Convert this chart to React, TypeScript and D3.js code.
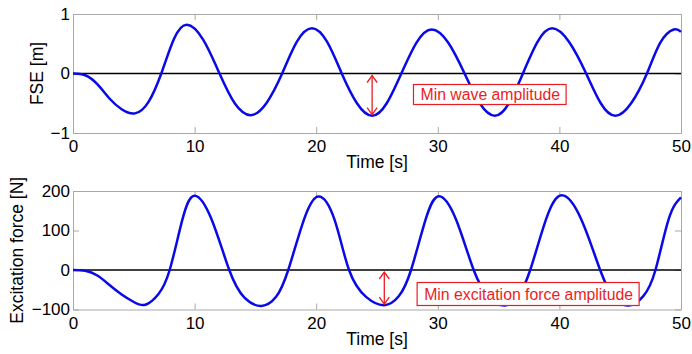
import React, { useEffect, useRef } from 'react';
import * as d3 from 'd3';

// free surface elevation
const fseTime = [0, 1, 2, 3, 4, 5.1, 6.2, 7.26, 8.3, 9.37, 10.7, 12.05, 13.3, 14.6, 15.9, 17.2, 18.4, 19.65, 20.9, 22.1, 23.35, 24.6, 25.8, 27.0, 28.25, 29.5, 30.85, 32.2, 33.45, 34.7, 35.85, 37.0, 38.2, 39.4, 40.8, 42.2, 43.4, 44.6, 45.9, 47.2, 48.3, 49.4, 50];
const fseValue = [0, -0.03, -0.18, -0.42, -0.6, -0.67, -0.48, 0, 0.58, 0.82, 0.57, 0, -0.5, -0.7, -0.5, 0, 0.53, 0.76, 0.53, 0, -0.5, -0.71, -0.5, 0, 0.52, 0.74, 0.52, 0, -0.5, -0.71, -0.5, 0, 0.53, 0.76, 0.53, 0, -0.5, -0.71, -0.5, 0, 0.52, 0.74, 0.7];

// excitation force, bottom panel
const forceTime = [0, 1, 2, 3, 4, 5, 5.95, 7, 7.95, 9, 10, 11.4, 12.85, 14.1, 15.5, 16.7, 17.7, 19.0, 20.2, 21.5, 22.7, 24.1, 25.6, 26.8, 27.8, 29.0, 30.1, 31.5, 32.95, 34.2, 35.5, 36.6, 37.6, 38.9, 40.2, 41.8, 43.35, 44.5, 45.7, 46.9, 47.9, 49.0, 50];
const forceValue = [0, -2, -14, -38, -62, -81, -88, -62, 0, 128, 188, 128, 0, -70, -91, -68, 0, 128, 186, 128, 0, -68, -89, -66, 0, 128, 187, 128, 0, -68, -90, -66, 0, 128, 189, 128, 0, -70, -90, -66, 0, 130, 184];

const timeTicks = [0, 10, 20, 30, 40, 50];
const fseTicks = [-1, 0, 1];
const forceTicks = [-100, 0, 100, 200];

const FONT = '"Liberation Sans", Arial, Helvetica, sans-serif';
const BLUE = '#0a0ae6';
const RED = '#ec1c24';
const FRAME = '#a8a8a8';

type Panel = {
  top: number;
  bottom: number;
  yDomain: [number, number];
  yTicks: number[];
  yLabel: string;
  yLabelX: number;
  times: number[];
  values: number[];
  arrowT: number;
  arrowV: number;
  note: string;
  noteT: number;
  noteTop: number;
  noteH: number;
};

const panels: Panel[] = [
  {
    top: 14, bottom: 133, yDomain: [-1, 1], yTicks: fseTicks, yLabel: 'FSE [m]', yLabelX: 37,
    times: fseTime, values: fseValue, arrowT: 24.6, arrowV: -0.71,
    note: 'Min wave amplitude', noteT: 28, noteTop: 84.5, noteH: 20,
  },
  {
    top: 191, bottom: 309.5, yDomain: [-100, 200], yTicks: forceTicks, yLabel: 'Excitation force [N]', yLabelX: 17,
    times: forceTime, values: forceValue, arrowT: 25.6, arrowV: -89,
    note: 'Min excitation force amplitude', noteT: 28.3, noteTop: 282.5, noteH: 23,
  },
];

export default function App() {
  const ref = useRef<SVGSVGElement>(null);

  useEffect(() => {
    const svg = d3.select(ref.current);
    svg.selectAll('*').remove();

    const left = 73, right = 681;
    const x = d3.scaleLinear().domain([0, 50]).range([left, right]);

    panels.forEach(p => {
      const y = d3.scaleLinear().domain(p.yDomain).range([p.bottom, p.top]);
      const g = svg.append('g');

      // white plot background
      g.append('rect')
        .attr('x', left).attr('y', p.top)
        .attr('width', right - left).attr('height', p.bottom - p.top)
        .attr('fill', '#fff');

      // axes, ticks inside (MATLAB style, mirrored)
      const styleAxis = (sel: any) => {
        sel.selectAll('path.domain').attr('stroke', FRAME);
        sel.selectAll('.tick line').attr('stroke', FRAME);
        sel.selectAll('text').attr('fill', '#000').style('font-size', '17px').style('font-family', FONT);
      };
      g.append('g').attr('transform', `translate(0,${p.bottom})`)
        .call(d3.axisBottom(x).tickValues(timeTicks).tickSizeInner(-6).tickSizeOuter(0).tickPadding(7).tickFormat(d3.format('d')))
        .call(styleAxis);
      g.append('g').attr('transform', `translate(0,${p.top})`)
        .call(d3.axisTop(x).tickValues(timeTicks).tickSizeInner(-6).tickSizeOuter(0).tickFormat(() => ''))
        .call(styleAxis);
      g.append('g').attr('transform', `translate(${left},0)`)
        .call(d3.axisLeft(y).tickValues(p.yTicks).tickSizeInner(-6).tickSizeOuter(0).tickPadding(3).tickFormat(d3.format('d')))
        .call(styleAxis);
      g.append('g').attr('transform', `translate(${right},0)`)
        .call(d3.axisRight(y).tickValues(p.yTicks).tickSizeInner(-6).tickSizeOuter(0).tickFormat(() => ''))
        .call(styleAxis);

      // zero reference line
      g.append('line')
        .attr('x1', x(0)).attr('x2', x(50))
        .attr('y1', y(0)).attr('y2', y(0))
        .attr('stroke', '#000').attr('stroke-width', 1.3);

      // signal
      const line = d3.line<number>()
        .x((_, i) => x(p.times[i]))
        .y(d => y(d))
        .curve(d3.curveNatural);
      g.append('path')
        .datum(p.values)
        .attr('d', line)
        .attr('fill', 'none')
        .attr('stroke', BLUE)
        .attr('stroke-width', 2.5)
        .attr('stroke-linejoin', 'round');

      // double arrow from zero to trough
      const ax = x(p.arrowT), ay0 = y(0) + 2, ay1 = y(p.arrowV) - 1;
      const ag = g.append('g').attr('stroke', RED).attr('stroke-width', 1.3).attr('fill', 'none');
      ag.append('line').attr('x1', ax).attr('x2', ax).attr('y1', ay0).attr('y2', ay1);
      ag.append('path').attr('d', `M${ax - 5},${ay0 + 7}L${ax},${ay0}L${ax + 5},${ay0 + 7}`);
      ag.append('path').attr('d', `M${ax - 5},${ay1 - 7}L${ax},${ay1}L${ax + 5},${ay1 - 7}`);

      // annotation box
      const ng = g.append('g');
      const rect = ng.append('rect');
      const txt = ng.append('text')
        .attr('x', x(p.noteT) + 7)
        .attr('y', p.noteTop + p.noteH / 2)
        .attr('dy', '0.36em')
        .attr('fill', RED)
        .style('font-size', '15.8px')
        .style('font-family', FONT)
        .text(p.note);
      const w = (txt.node() as SVGTextElement).getComputedTextLength();
      rect.attr('x', x(p.noteT)).attr('y', p.noteTop)
        .attr('width', w + 13).attr('height', p.noteH)
        .attr('fill', '#fff').attr('stroke', RED).attr('stroke-width', 1.2);

      // labels
      g.append('text')
        .attr('x', (left + right) / 2)
        .attr('y', p.bottom + 29)
        .attr('dy', '0.36em')
        .attr('text-anchor', 'middle')
        .style('font-size', '17.5px')
        .style('font-family', FONT)
        .text('Time [s]');
      g.append('text')
        .attr('transform', `translate(${p.yLabelX},${(p.top + p.bottom) / 2}) rotate(-90)`)
        .attr('dy', '0.36em')
        .attr('text-anchor', 'middle')
        .style('font-size', '17.5px')
        .style('font-family', FONT)
        .text(p.yLabel);
    });
  }, []);

  return (
    <svg
      ref={ref}
      width={692}
      height={354}
      style={{ position: 'absolute', left: 0, top: 0, background: '#fff' }}
    />
  );
}
